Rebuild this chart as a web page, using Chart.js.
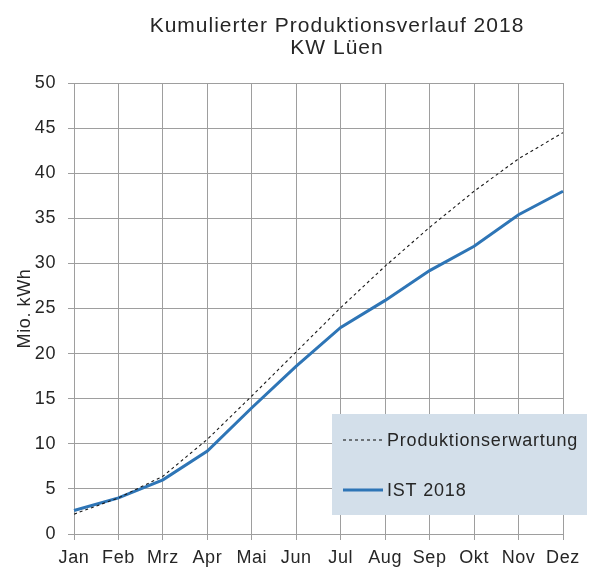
<!DOCTYPE html>
<html>
<head>
<meta charset="utf-8">
<script src="https://cdn.jsdelivr.net/npm/chart.js@4"></script>
<style>
    html, body { margin: 0; padding: 0; background: #fff; }
    #wrap { position: relative; width: 590px; height: 567px; }
</style>
</head>
<body>
<div id="wrap"><canvas id="prodChart"></canvas></div>
<script>
// Kumulierter Produktionsverlauf 2018 - KW Lüen

const months = ['Jan', 'Feb', 'Mrz', 'Apr', 'Mai', 'Jun', 'Jul', 'Aug', 'Sep', 'Okt', 'Nov', 'Dez'];
const erwartung = [2.2, 4.0, 6.4, 10.5, 15.3, 20.2, 25.1, 29.7, 34.0, 38.0, 41.6, 44.5];
const ist2018 = [2.6, 4.0, 6.0, 9.2, 14.0, 18.6, 22.9, 25.9, 29.2, 31.9, 35.4, 38.0];
const titleLines = ['Kumulierter Produktionsverlauf 2018', 'KW Lüen'];
const yLabel = 'Mio. kWh';

const FONT = '"Liberation Sans", Arial, sans-serif';
const TEXT = '#262626';
const GRID = '#9e9e9e';

/**
 * Excel-like text spacing for every label Chart.js draws
 */
const spacingPlugin = {
    id: 'spacing',
    beforeDraw(chart) {
        chart.ctx.letterSpacing = '0.6px';
    }
};

/**
 * Title, y label and the boxed legend drawn on the canvas
 */
const decorPlugin = {
    id: 'decor',
    afterDraw(chart) {
        const ctx = chart.ctx;
        const area = chart.chartArea;
        ctx.save();
        ctx.fillStyle = TEXT;
        ctx.textAlign = 'center';
        ctx.textBaseline = 'middle';
        ctx.letterSpacing = '1px';
        ctx.font = '21px ' + FONT;
        ctx.fillText(titleLines[0], 337, 26);
        ctx.fillText(titleLines[1], 337, 48);

        // y axis label
        ctx.save();
        ctx.letterSpacing = '0.6px';
        ctx.translate(25, (area.top + area.bottom) / 2);
        ctx.rotate(-Math.PI / 2);
        ctx.font = '18px ' + FONT;
        ctx.fillText(yLabel, 0, 0);
        ctx.restore();

        // legend box
        const bx = 332, by = 414, bw = 255, bh = 101;
        ctx.fillStyle = '#d3dfea';
        ctx.fillRect(bx, by, bw, bh);
        ctx.textAlign = 'left';
        ctx.letterSpacing = '0.8px';
        ctx.font = '18px ' + FONT;
        const rows = [440, 490];
        chart.data.datasets.forEach((ds, i) => {
            ctx.beginPath();
            ctx.strokeStyle = ds.borderColor;
            ctx.lineWidth = ds.borderWidth;
            ctx.setLineDash(ds.borderDash || []);
            ctx.moveTo(343, rows[i]);
            ctx.lineTo(383, rows[i]);
            ctx.stroke();
            ctx.setLineDash([]);
            ctx.fillStyle = TEXT;
            ctx.fillText(ds.label, 387, rows[i] + 1);
        });
        ctx.restore();
    }
};

new Chart(document.getElementById('prodChart'), {
    type: 'line',
    data: {
        labels: months,
        datasets: [{
            label: 'Produktionserwartung',
            data: erwartung,
            borderColor: '#1a1a1a',
            borderWidth: 1.1,
            borderDash: [3, 3],
            pointRadius: 0,
            tension: 0
        }, {
            label: 'IST 2018',
            data: ist2018,
            borderColor: '#2e75b6',
            borderWidth: 3,
            pointRadius: 0,
            tension: 0
        }]
    },
    options: {
        responsive: true,
        maintainAspectRatio: false,
        animation: false,
        layout: { padding: { top: 83, right: 27, left: 0, bottom: 0 } },
        plugins: {
            legend: { display: false },
            title: { display: false },
            tooltip: { enabled: false }
        },
        scales: {
            x: {
                offset: false,
                grid: { color: GRID, lineWidth: 1, tickLength: 6 },
                border: { color: GRID },
                ticks: { color: TEXT, font: { family: FONT, size: 18 }, padding: 7, maxRotation: 0, autoSkip: false },
                afterFit(scale) { scale.height = 33; }
            },
            y: {
                min: 0,
                max: 50,
                grid: { color: GRID, lineWidth: 1, tickLength: 6 },
                border: { color: GRID },
                ticks: { stepSize: 5, color: TEXT, font: { family: FONT, size: 18 }, padding: 12 },
                afterFit(scale) { scale.width = 74; }
            }
        }
    },
    plugins: [spacingPlugin, decorPlugin]
});
</script>
</body>
</html>
